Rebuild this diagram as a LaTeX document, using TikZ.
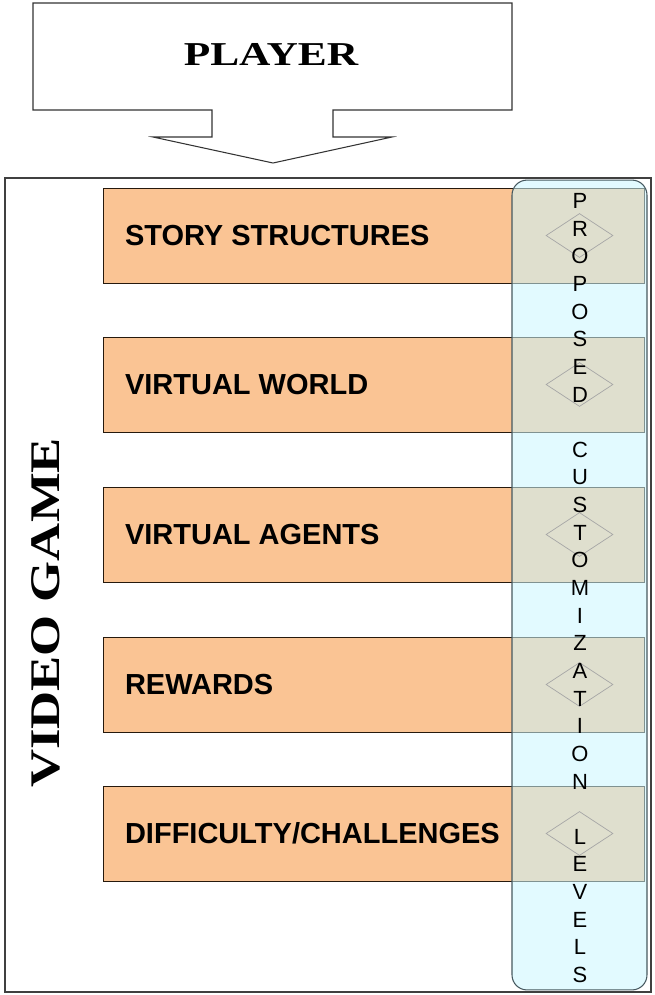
\documentclass[tikz,border=0pt]{standalone}
\usepackage{fontspec}
\usepackage{graphicx}
\setmainfont{Liberation Serif}
\setsansfont{Liberation Sans}
\usetikzlibrary{shapes.geometric}

\definecolor{boxorange}{RGB}{250,196,148}
\definecolor{barblue}{RGB}{202,246,255}
\definecolor{barline}{RGB}{70,88,95}

\begin{document}
\begin{tikzpicture}[x=0.02cm,y=-0.02cm,
  item/.style={draw=black!80!brown,fill=boxorange,minimum width=10.82cm,minimum height=1.9cm,inner sep=0pt},
  itemtext/.style={anchor=west,inner sep=0pt,font=\sffamily\bfseries\fontsize{16.5}{19}\selectfont},
  custbar/.style={draw=barline,line width=0.6pt,fill=barblue,fill opacity=0.55,rounded corners=0.3cm,minimum width=2.7cm,minimum height=16.2cm,inner sep=0pt},
  diam/.style={diamond,draw=black!35,minimum width=1.34cm,minimum height=0.88cm,inner sep=0pt},
  letter/.style={inner sep=0pt,font=\sffamily\fontsize{12.5}{14}\selectfont}]
\useasboundingbox (0,0) rectangle (655,995);
% player callout
\draw[black!80,line width=0.6pt,fill=white] (33,3) -- (512,3) -- (512,110) -- (333,110) -- (333,137) -- (392,137)
  -- (273,163) -- (153,137) -- (212,137) -- (212,110) -- (33,110) -- cycle;
\node[inner sep=0pt] (player) at (271,54) {\scalebox{1.3}[1]{\bfseries\fontsize{19}{22}\selectfont PLAYER}};
% game frame
\node[draw=black!75,line width=0.8pt,minimum width=12.92cm,minimum height=16.28cm,inner sep=0pt] (game) at (328,585) {};
\node[rotate=90,inner sep=0pt] (vg) at (46,613) {\scalebox{1.25}[1]{\bfseries\fontsize{24}{28}\selectfont VIDEO GAME}};
% elements
\foreach \y/\t [count=\i] in {188/STORY STRUCTURES,337/VIRTUAL WORLD,487/VIRTUAL AGENTS,637/REWARDS,786/{DIFFICULTY/CHALLENGES}}{
  \node[item] (b\i) at (373.5,\y+47.5) {};
  \node[itemtext] (t\i) at ([xshift=0.44cm]b\i.west) {\t};
}
% customization bar
\node[custbar] (cust) at (579.5,585) {};
\foreach \i in {1,...,5}
  \node[diam] (d\i) at (cust |- b\i) {};
\foreach \w/\s in {{P,R,O,P,O,S,E,D}/0,{C,U,S,T,O,M,I,Z,A,T,I,O,N}/9,{L,E,V,E,L,S}/23}
  \foreach \c [count=\i from \s] in \w
    \node[letter] (l\i) at (580,201+27.64*\i) {\c};
\end{tikzpicture}
\end{document}
